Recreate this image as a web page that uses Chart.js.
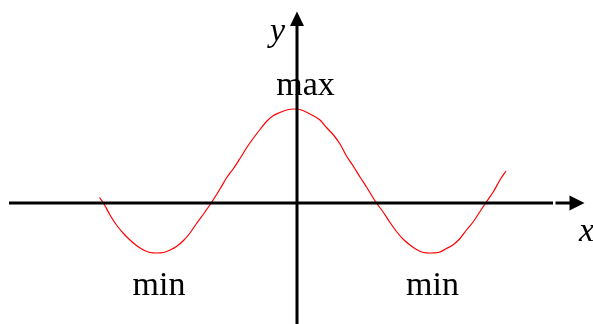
<!DOCTYPE html>
<html>
<head>
<meta charset="utf-8">
<script src="https://cdn.jsdelivr.net/npm/chart.js@4/dist/chart.umd.min.js"></script>
<style>
  html, body { margin: 0; padding: 0; background: #fff; }
  canvas { display: block; }
</style>
</head>
<body>
<canvas id="curve" width="593" height="324"></canvas>
<script>
// curve (1 unit = 50 px, origin at the axes crossing)
const xs = [-3.95, -3.87, -3.74, -3.61, -3.47, -3.34, -3.21, -3.07, -2.94, -2.81,
  -2.67, -2.54, -2.41, -2.27, -2.14, -2.01, -1.87, -1.71, -1.54, -1.41,
  -1.27, -1.14, -1.01, -0.87, -0.74, -0.61, -0.47, -0.34, -0.21, -0.06,
  0.09, 0.26, 0.46, 0.59, 0.73, 0.86, 0.99, 1.13, 1.26, 1.39,
  1.59, 1.73, 1.86, 1.99, 2.13, 2.26, 2.39, 2.53, 2.66, 2.83,
  2.99, 3.13, 3.26, 3.39, 3.53, 3.66, 3.78, 3.93, 4.06, 4.18];
const ys = [0.11, 0, -0.24, -0.44, -0.61, -0.74, -0.85, -0.94, -0.99, -1.0,
  -0.99, -0.94, -0.87, -0.75, -0.6, -0.41, -0.22, 0.01, 0.28, 0.5,
  0.69, 0.89, 1.1, 1.3, 1.47, 1.63, 1.75, 1.81, 1.86, 1.88,
  1.86, 1.78, 1.66, 1.51, 1.36, 1.18, 0.94, 0.73, 0.52, 0.32,
  0, -0.19, -0.39, -0.57, -0.73, -0.84, -0.93, -0.99, -1.0, -0.99,
  -0.91, -0.83, -0.71, -0.54, -0.37, -0.17, 0.01, 0.23, 0.46, 0.64];

const axisNames = ["x", "y"];
const extremaLabels = ["max", "min", "min"];

const red = "#ff0000";
const black = "#000000";
const serif = '"Liberation Serif", "Times New Roman", serif';

const axesPlugin = {
  id: "axes",
  afterDatasetsDraw(chart) {
    const { ctx, scales } = chart;
    const ox = scales.x.getPixelForValue(0);
    const oy = scales.y.getPixelForValue(0);
    ctx.save();
    ctx.strokeStyle = black;
    ctx.fillStyle = black;

    // axis names
    ctx.font = "italic 34px " + serif;
    ctx.textAlign = "left";
    ctx.textBaseline = "alphabetic";
    ctx.fillText(axisNames[0], 579, oy + 38);
    ctx.fillText(axisNames[1], 270, 41);

    // max / min labels
    ctx.font = "34px " + serif;
    ctx.textAlign = "center";
    ctx.fillText(extremaLabels[0], 305.5, 95);
    ctx.fillText(extremaLabels[1], 159, 295);
    ctx.fillText(extremaLabels[2], 432.5, 295);

    ctx.lineWidth = 3;
    // x axis (with the small break near the arrow)
    ctx.beginPath();
    ctx.moveTo(9, oy);
    ctx.lineTo(553, oy);
    ctx.moveTo(555.5, oy);
    ctx.lineTo(571, oy);
    ctx.stroke();
    ctx.beginPath();
    ctx.moveTo(584.5, oy);
    ctx.lineTo(569.5, oy - 7.5);
    ctx.lineTo(569.5, oy + 7.5);
    ctx.closePath();
    ctx.fill();

    // y axis
    ctx.beginPath();
    ctx.moveTo(ox, chart.height);
    ctx.lineTo(ox, 25);
    ctx.stroke();
    ctx.beginPath();
    ctx.moveTo(ox, 11.5);
    ctx.lineTo(ox - 7, 26);
    ctx.lineTo(ox + 7, 26);
    ctx.closePath();
    ctx.fill();
    ctx.restore();
  },
};

new Chart(document.getElementById("curve"), {
  type: "scatter",
  data: {
    datasets: [
      {
        data: xs.map((x, i) => ({ x: x, y: ys[i] })),
        showLine: true,
        borderColor: red,
        borderWidth: 1.2,
        pointRadius: 0,
        cubicInterpolationMode: "monotone",
      },
    ],
  },
  options: {
    responsive: false,
    animation: false,
    layout: { padding: 0 },
    plugins: {
      legend: { display: false },
      tooltip: { enabled: false },
    },
    scales: {
      x: { type: "linear", display: false, min: -5.94, max: 5.92 },
      y: { type: "linear", display: false, min: -2.42, max: 4.06 },
    },
  },
  plugins: [axesPlugin],
});
</script>
</body>
</html>
